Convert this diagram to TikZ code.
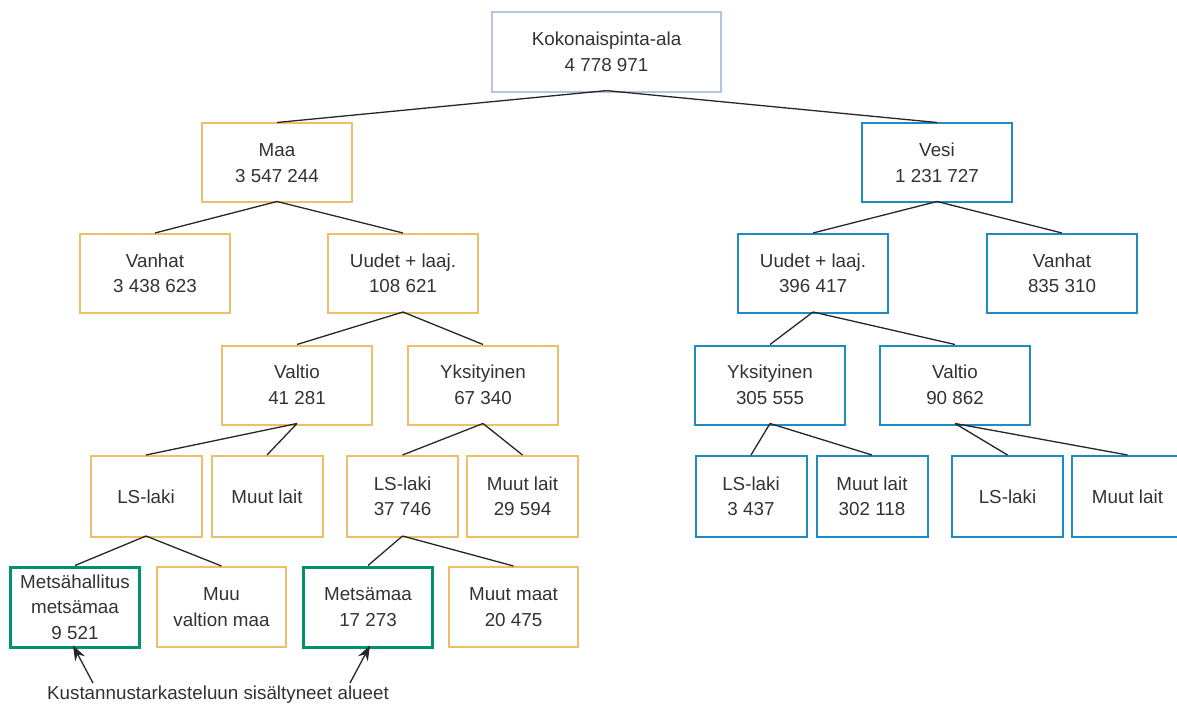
\documentclass[tikz,border=0pt]{standalone}
\usepackage{fontspec}
\setmainfont{Liberation Sans}
\usepackage{xcolor}
\usetikzlibrary{positioning,arrows.meta}
\definecolor{landorange}{RGB}{238,190,105}
\definecolor{waterblue}{RGB}{30,140,195}
\definecolor{forestgreen}{RGB}{0,145,110}
\definecolor{rootgray}{RGB}{180,196,226}
\definecolor{textgray}{RGB}{50,50,50}
\tikzset{
  box/.style={draw, align=center, inner sep=0pt, text=textgray,
    font=\fontsize{18.8}{25.5}\selectfont},
  rootbox/.style={box, draw=rootgray, line width=1.2pt, minimum width=229pt, minimum height=80pt},
  landbox/.style={box, draw=landorange, line width=2pt},
  waterbox/.style={box, draw=waterblue, line width=2pt},
  forestbox/.style={box, draw=forestgreen, line width=3pt},
  wide/.style={minimum width=150pt, minimum height=79pt},
  narrow/.style={minimum width=111pt, minimum height=81pt},
  leaf/.style={minimum width=129pt, minimum height=80pt},
  link/.style={draw=black!85, line width=1.3pt},
}
\begin{document}
\begin{tikzpicture}[x=1pt, y=-1pt]
\useasboundingbox (0,0) rectangle (1177,711);
\begin{scope}
\clip (0,0) rectangle (1177,711);
% Top
\node[rootbox] (root) at (606.5,52) {Kokonaispinta-ala\\4 778 971};
% Land side
\node[landbox, wide] (maa) at (277,163) {Maa\\3 547 244};
\node[landbox, wide] (vanhatM) at (155,273.5) {Vanhat\\3 438 623};
\node[landbox, wide] (uudetM) at (403,273.5) {Uudet + laaj.\\108 621};
\node[landbox, wide] (valtioM) at (297,385) {Valtio\\41 281};
\node[landbox, wide] (yksM) at (483,385) {Yksityinen\\67 340};
\node[landbox, narrow] (lsM1) at (146,496.5) {LS-laki};
\node[landbox, narrow] (muutM1) at (267,496.5) {Muut lait};
\node[landbox, narrow] (lsM2) at (402.5,496.5) {LS-laki\\37 746};
\node[landbox, narrow] (muutM2) at (522.5,496.5) {Muut lait\\29 594};
\node[forestbox, leaf] (mh) at (75,607) {Metsähallitus\\metsämaa\\9 521};
\node[landbox, leaf] (muuval) at (221.5,607) {Muu\\valtion maa};
\node[forestbox, leaf] (metsa) at (368,607) {Metsämaa\\17 273};
\node[landbox, leaf] (muutmaat) at (513.5,607) {Muut maat\\20 475};
% Water side
\node[waterbox, wide] (vesi) at (937,163) {Vesi\\1 231 727};
\node[waterbox, wide] (uudetV) at (813,273.5) {Uudet + laaj.\\396 417};
\node[waterbox, wide] (vanhatV) at (1062,273.5) {Vanhat\\835 310};
\node[waterbox, wide] (yksV) at (770,385) {Yksityinen\\305 555};
\node[waterbox, wide] (valtioV) at (955,385) {Valtio\\90 862};
\node[waterbox, narrow] (lsV1) at (751,496.5) {LS-laki\\3 437};
\node[waterbox, narrow] (muutV1) at (872,496.5) {Muut lait\\302 118};
\node[waterbox, narrow] (lsV2) at (1007.5,496.5) {LS-laki};
\node[waterbox, narrow] (muutV2) at (1127.5,496.5) {Muut lait};
% Links
\foreach \p/\c in {root/maa, root/vesi, maa/vanhatM, maa/uudetM, uudetM/valtioM,
    uudetM/yksM, valtioM/lsM1, valtioM/muutM1, yksM/lsM2, yksM/muutM2,
    lsM1/mh, lsM1/muuval, lsM2/metsa, lsM2/muutmaat, vesi/uudetV, vesi/vanhatV,
    uudetV/yksV, uudetV/valtioV, yksV/lsV1, yksV/muutV1, valtioV/lsV2, valtioV/muutV2}
  \draw[link] ([yshift=2pt]\p.south) -- (\c.north);
\end{scope}
% Note
\node[font=\fontsize{18.8}{22}\selectfont, text=textgray] (note) at (218,695) {Kustannustarkasteluun sisältyneet alueet};
\coordinate (tail1) at (93,683);
\coordinate (tail2) at (350,683);
\draw[link, -{Stealth[length=15pt,width=11pt]}] (tail1) -- ([xshift=-2pt,yshift=3pt]mh.south);
\draw[link, -{Stealth[length=15pt,width=11pt]}] (tail2) -- ([xshift=2pt,yshift=3pt]metsa.south);
\end{tikzpicture}
\end{document}
